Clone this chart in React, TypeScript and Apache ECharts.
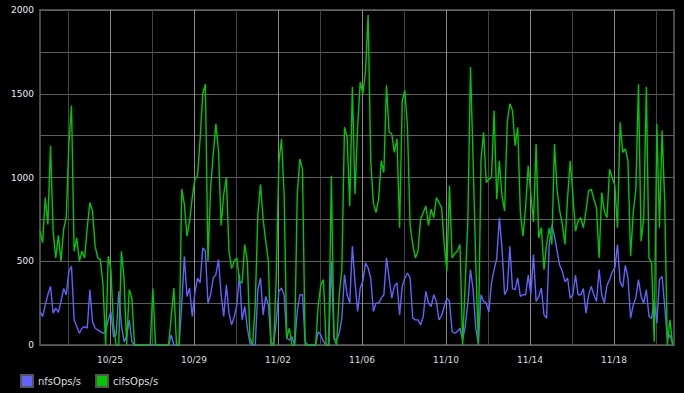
import React, { useEffect, useRef } from "react";
import * as echarts from "echarts";

// time: hours relative to 10/23 00:00, samples every 3 hours starting at -32h (10/21 16:00)
const startHour = -32;
const stepHours = 3;
const axisMinHour = -32;
const axisMaxHour = 692.6;
const gridHours = [0, 48, 96, 144, 192, 240, 288, 336, 384, 432, 480, 528, 576, 624, 672];
const labelHours = [48, 144, 240, 336, 432, 528, 624];
const yTicks = [0, 500, 1000, 1500, 2000];

const nfsOps = [
  200, 170, 238, 300, 350, 190, 220, 195, 260, 337,
  300, 440, 470, 150, 110, 70, 100, 110, 100, 330,
  140, 100, 90, 80, 70, 80, 150, 200, 50, 60,
  320, 120, 20, 50, 150, 20, 0, 0, 0, 0,
  0, 0, 0, 0, 0, 0, 0, 0, 0, 0,
  60, 0, 0, 0, 240, 530, 290, 340, 170, 310,
  400, 370, 580, 560, 250, 300, 400, 420, 510, 300,
  170, 360, 190, 120, 170, 240, 420, 150, 230, 100,
  10, 0, 0, 330, 400, 180, 290, 240, 20, 0,
  140, 320, 340, 300, 40, 30, 50, 0, 200, 300,
  300, 20, 0, 0, 0, 0, 80, 60, 20, 0,
  0, 500, 40, 30, 70, 160, 420, 300, 250, 590,
  377, 200, 340, 380, 490, 460, 400, 200, 250, 250,
  280, 300, 520, 400, 280, 350, 370, 180, 350, 400,
  430, 400, 160, 150, 150, 120, 170, 320, 250, 230,
  300, 260, 150, 175, 230, 280, 260, 80, 70, 80,
  100, 30, 110, 250, 450, 330, 100, 10, 300, 260,
  250, 198, 370, 450, 516, 760, 580, 300, 330, 590,
  337, 330, 400, 290, 300, 300, 417, 300, 540, 260,
  290, 340, 180, 160, 600, 714, 650, 560, 476, 440,
  377, 400, 278, 300, 417, 300, 300, 337, 190, 298,
  350, 300, 260, 450, 298, 250, 357, 390, 437, 460,
  600, 377, 345, 476, 400, 160, 238, 280, 390, 290,
  250, 330, 170, 159, 270, 130, 390, 410, 230, 40,
  60, 5,
];

const cifsOps = [
  680, 610, 880, 720, 1190, 680, 520, 655, 500, 690,
  760, 1200, 1430, 560, 640, 500, 560, 520, 700, 850,
  800, 590, 520, 510, 360, 0, 530, 450, 120, 0,
  0, 560, 400, 0, 330, 280, 0, 0, 0, 0,
  0, 0, 0, 337, 0, 0, 0, 0, 0, 0,
  170, 340, 0, 0, 930, 840, 650, 740, 880, 990,
  1010, 1230, 1500, 1557, 500, 940, 1140, 1320, 1160, 714,
  900, 1000, 560, 456, 500, 520, 380, 370, 600, 500,
  40, 0, 240, 780, 960, 750, 620, 500, 0, 0,
  400, 1090, 1230, 900, 40, 100, 0, 0, 900, 1110,
  1050, 0, 0, 0, 0, 0, 240, 360, 390, 0,
  0, 1010, 40, 0, 300, 450, 1300, 1240, 830, 1540,
  900, 1300, 1570, 1500, 1630, 1970, 1100, 850, 790, 870,
  1100, 1030, 1550, 1270, 1260, 1150, 1230, 700, 1460, 1520,
  1300, 714, 600, 520, 560, 750, 790, 830, 714, 810,
  760, 880, 850, 820, 600, 440, 950, 520, 546, 560,
  600, 0, 370, 740, 1660, 1100, 500, 0, 1100, 1270,
  970, 990, 1000, 1400, 870, 1100, 890, 800, 1330, 1440,
  1400, 1190, 1300, 790, 650, 820, 1070, 900, 734, 1200,
  640, 700, 450, 600, 700, 600, 1200, 920, 800, 720,
  600, 880, 1100, 900, 680, 740, 760, 700, 800, 920,
  930, 870, 820, 520, 910, 800, 760, 1050, 1000, 950,
  700, 1330, 1150, 1170, 1100, 530, 790, 930, 1557, 620,
  754, 1540, 520, 490, 20, 1320, 700, 1280, 850, 0,
  150, 0,
];

const baseDate = Date.UTC(2010, 9, 23);
const pad = (n: number) => (n < 10 ? "0" + n : "" + n);
const fmtDate = (h: number) => {
  const d = new Date(baseDate + h * 3600000);
  return pad(d.getUTCMonth() + 1) + "/" + pad(d.getUTCDate());
};

const toPoints = (vals: number[]) => vals.map((v, i) => [startHour + i * stepHours, v]);

export default function App() {
  const ref = useRef<HTMLDivElement>(null);
  useEffect(() => {
    document.body.style.margin = "0";
    document.body.style.background = "#000";
    const chart = echarts.init(ref.current!, null, { renderer: "svg" });
    const font = "DejaVu Sans";
    chart.setOption({
      animation: false,
      backgroundColor: "#000",
      grid: {
        left: 40,
        right: 10,
        top: 10,
        bottom: 48,
        show: true,
        borderColor: "#4a4a4a",
        borderWidth: 2,
        backgroundColor: "#000",
      },
      legend: {
        left: 20,
        top: 374,
        padding: 0,
        icon: "rect",
        itemWidth: 12,
        itemHeight: 12,
        itemGap: 14,
        textStyle: { color: "#dddddd", fontSize: 10, fontFamily: font },
        data: ["nfsOps/s", "cifsOps/s"],
      },
      xAxis: {
        type: "value",
        min: axisMinHour,
        max: axisMaxHour,
        axisLine: { show: false },
        axisTick: { show: false },
        splitLine: { show: false },
        axisLabel: {
          customValues: labelHours,
          formatter: (v: number) => fmtDate(v),
          color: "#dddddd",
          fontSize: 9,
          fontFamily: font,
          margin: 10,
        },
      },
      yAxis: {
        type: "value",
        min: 0,
        max: 2000,
        interval: 250,
        axisLine: { show: true, lineStyle: { color: "#888", width: 1 } },
        axisTick: { show: false },
        splitLine: { show: true, lineStyle: { color: "#5e5e5e", width: 1 } },
        axisLabel: {
          formatter: (v: number) => (yTicks.indexOf(v) >= 0 ? String(v) : ""),
          color: "#eeeeee",
          fontSize: 9,
          fontFamily: font,
          margin: 6,
        },
      },
      series: [
        {
          name: "nfsOps/s",
          type: "line",
          data: toPoints(nfsOps),
          showSymbol: false,
          symbol: "none",
          itemStyle: { color: "#6262ff", borderColor: "#555", borderWidth: 1 },
          lineStyle: { color: "#6262ff", width: 1.4 },
          markLine: {
            silent: true,
            z: 1,
            symbol: ["none", "none"],
            label: { show: false },
            emphasis: { disabled: true },
            data: gridHours.map((h) => ({
              xAxis: h,
              lineStyle: {
                color: labelHours.indexOf(h) >= 0 ? "#8a8a8a" : "#444444",
                width: 1,
                type: "solid",
              },
            })),
          },
        },
        {
          name: "cifsOps/s",
          type: "line",
          data: toPoints(cifsOps),
          showSymbol: false,
          symbol: "none",
          itemStyle: { color: "#00c800", borderColor: "#555", borderWidth: 1 },
          lineStyle: { color: "#00c800", width: 1.4 },
        },
      ],
    });
    return () => chart.dispose();
  }, []);
  return <div ref={ref} style={{ width: 684, height: 393 }} />;
}
